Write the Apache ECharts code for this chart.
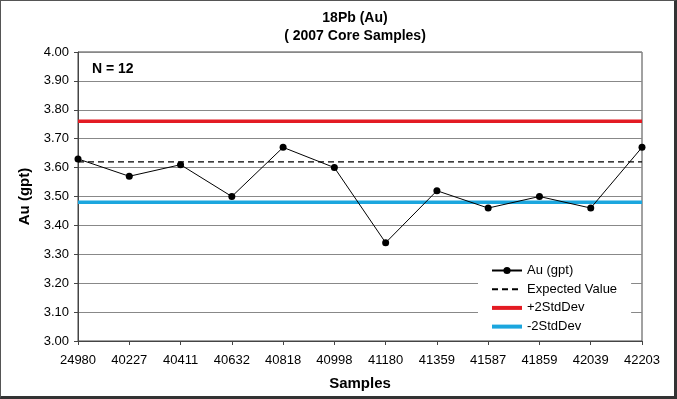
<!DOCTYPE html>
<html>
<head>
<meta charset="utf-8">
<script src="https://cdn.jsdelivr.net/npm/echarts@6/dist/echarts.min.js"></script>
<style>
  html, body { margin: 0; padding: 0; background: #fff; }
  #frame { width: 677px; height: 399px; box-sizing: border-box;
           border: 1px solid #555; border-right: 3px solid #333; border-bottom: 3px solid #333; }
  #chart { width: 100%; height: 100%; }
</style>
</head>
<body>
<div id="frame"><div id="chart"></div></div>
<script>
var samples = ['24980', '40227', '40411', '40632', '40818', '40998',
               '41180', '41359', '41587', '41859', '42039', '42203'];
var au = [3.63, 3.57, 3.61, 3.50, 3.67, 3.60, 3.34, 3.52, 3.46, 3.50, 3.46, 3.67];
var expected = [3.62, 3.62, 3.62, 3.62, 3.62, 3.62, 3.62, 3.62, 3.62, 3.62, 3.62, 3.62];
var plus2sd = [3.76, 3.76, 3.76, 3.76, 3.76, 3.76, 3.76, 3.76, 3.76, 3.76, 3.76, 3.76];
var minus2sd = [3.48, 3.48, 3.48, 3.48, 3.48, 3.48, 3.48, 3.48, 3.48, 3.48, 3.48, 3.48];

var font = 'Liberation Sans, Arial, sans-serif';
var chart = echarts.init(document.getElementById('chart'));

// legend icons: only the data series gets a dot
var hideDot = { opacity: 0 };

var option = {
  animation: false,
  textStyle: { fontFamily: font },
  title: [
    {
      text: '18Pb (Au)\n( 2007 Core Samples)',
      left: 349, top: 3, textAlign: 'center',
      textStyle: { fontSize: 14, fontWeight: 'bold', color: '#000', lineHeight: 18, fontFamily: font }
    },
    {
      text: 'N = 12',
      left: 86, top: 56,
      textStyle: { fontSize: 14, fontWeight: 'bold', color: '#000', fontFamily: font }
    }
  ],
  grid: {
    left: 77, right: 32, top: 51, bottom: 55,
    show: true, borderColor: '#444', borderWidth: 1
  },
  legend: {
    orient: 'vertical',
    left: 477, top: 260,
    backgroundColor: '#fff',
    padding: [3, 14, 4, 12],
    itemWidth: 30, itemHeight: 9, itemGap: 5.7,
    textStyle: { fontSize: 13, color: '#000', fontFamily: font },
    data: [
      { name: 'Au (gpt)' },
      { name: 'Expected Value', itemStyle: hideDot },
      { name: '+2StdDev', itemStyle: hideDot, lineStyle: { width: 4 } },
      { name: '-2StdDev', itemStyle: hideDot, lineStyle: { width: 4 } }
    ]
  },
  xAxis: {
    type: 'category',
    data: samples,
    boundaryGap: false,
    name: 'Samples',
    nameLocation: 'middle',
    nameGap: 35,
    nameTextStyle: { fontSize: 15, fontWeight: 'bold', color: '#000', fontFamily: font },
    axisLine: { lineStyle: { color: '#444', width: 1 } },
    axisTick: { show: true, length: 4, lineStyle: { color: '#444' } },
    axisLabel: { fontSize: 13, color: '#000', margin: 13, interval: 0 },
    splitLine: { show: false }
  },
  yAxis: {
    type: 'value',
    min: 3, max: 4, interval: 0.1,
    name: 'Au (gpt)',
    nameLocation: 'middle',
    nameGap: 46,
    nameTextStyle: { fontSize: 15, fontWeight: 'bold', color: '#000', fontFamily: font },
    axisLine: { show: true, lineStyle: { color: '#444', width: 1 } },
    axisTick: { show: true, length: 4, lineStyle: { color: '#444' } },
    axisLabel: { fontSize: 13, color: '#000', margin: 9,
                 formatter: function (v) { return v.toFixed(2); } },
    splitLine: { show: true, lineStyle: { color: '#888', width: 1 } }
  },
  series: [
    {
      name: '+2StdDev', type: 'line', data: plus2sd,
      symbol: 'none', z: 2,
      lineStyle: { color: '#e31b23', width: 3.5 },
      itemStyle: { color: '#e31b23' }
    },
    {
      name: '-2StdDev', type: 'line', data: minus2sd,
      symbol: 'none', z: 2,
      lineStyle: { color: '#1ba6de', width: 3.5 },
      itemStyle: { color: '#1ba6de' }
    },
    {
      name: 'Expected Value', type: 'line', data: expected,
      symbol: 'none', z: 3,
      lineStyle: { color: '#000', width: 1.2, type: [6, 4] },
      itemStyle: { color: '#000' }
    },
    {
      name: 'Au (gpt)', type: 'line', data: au,
      symbol: 'circle', symbolSize: 7, z: 4,
      lineStyle: { color: '#000', width: 1 },
      itemStyle: { color: '#000' }
    }
  ]
};

chart.setOption(option);
</script>
</body>
</html>
